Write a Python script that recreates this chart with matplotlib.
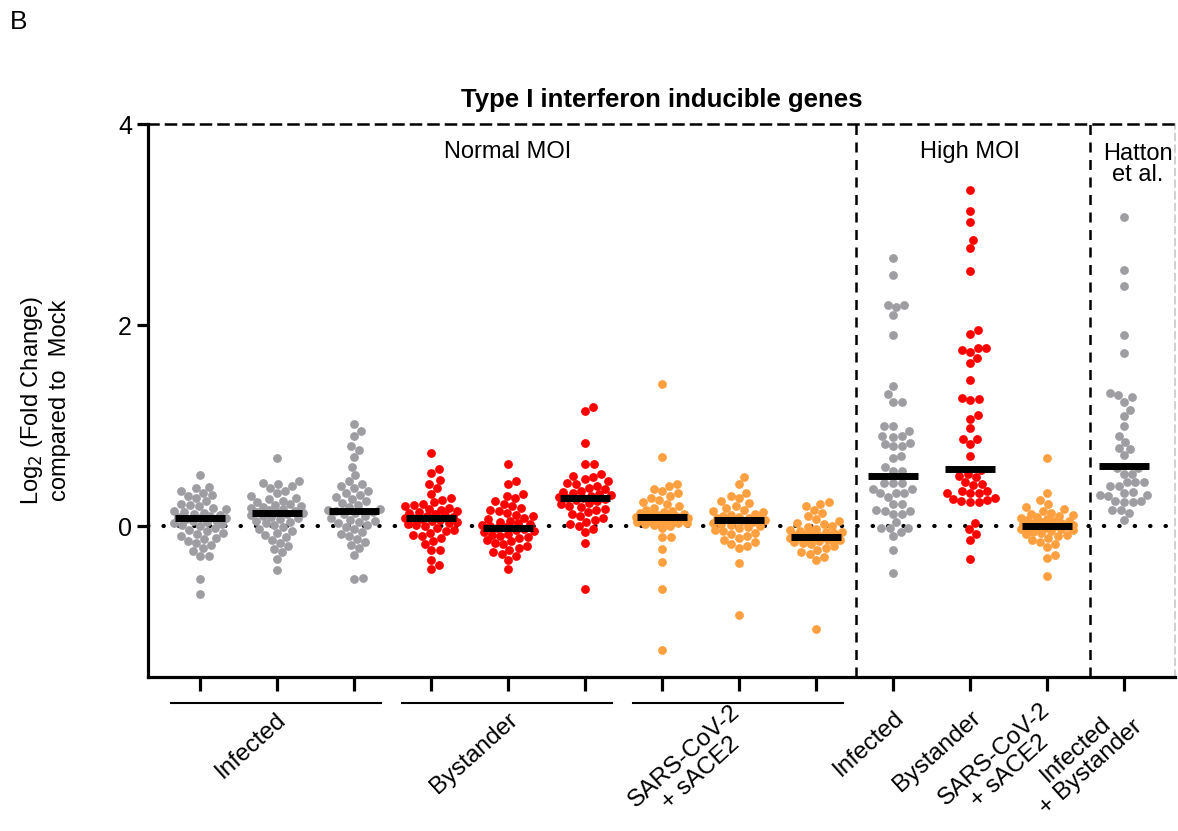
import numpy as np
import matplotlib
matplotlib.use('Agg')
import matplotlib.pyplot as plt

plt.rcParams['font.family'] = ['Liberation Sans', 'DejaVu Sans']

# значения для каждой группы (Log2 FC)
g_inf_1 = [0.51, 0.39, 0.38, 0.35, 0.33, 0.31, 0.30, 0.28, 0.25, 0.22, 0.21, 0.20, 0.18, 0.17,
           0.15, 0.14, 0.13, 0.12, 0.11, 0.10, 0.09, 0.08, 0.08, 0.07, 0.06, 0.05, 0.04, 0.03,
           0.02, 0.01, 0.0, -0.02, -0.04, -0.05, -0.07, -0.08, -0.10, -0.12, -0.13, -0.15,
           -0.17, -0.19, -0.22, -0.25, -0.30, -0.30, -0.53, -0.67]
g_inf_2 = [0.68, 0.45, 0.43, 0.42, 0.40, 0.38, 0.35, 0.33, 0.30, 0.28, 0.27, 0.25, 0.24, 0.22,
           0.21, 0.20, 0.19, 0.18, 0.17, 0.16, 0.15, 0.14, 0.14, 0.13, 0.12, 0.11, 0.10, 0.09,
           0.08, 0.07, 0.05, 0.04, 0.03, 0.01, -0.01, -0.03, -0.05, -0.07, -0.09, -0.11, -0.14,
           -0.17, -0.20, -0.23, -0.26, -0.33, -0.44]
g_inf_3 = [1.02, 0.95, 0.90, 0.80, 0.76, 0.69, 0.59, 0.51, 0.45, 0.42, 0.40, 0.38, 0.35, 0.33,
           0.31, 0.29, 0.27, 0.25, 0.23, 0.21, 0.19, 0.17, 0.16, 0.15, 0.14, 0.13, 0.12, 0.10,
           0.08, 0.06, 0.05, 0.04, 0.03, 0.01, -0.01, -0.03, -0.06, -0.08, -0.10, -0.13, -0.16,
           -0.19, -0.22, -0.29, -0.53, -0.52]
g_bys_1 = [0.73, 0.57, 0.53, 0.46, 0.42, 0.38, 0.32, 0.28, 0.26, 0.24, 0.22, 0.21, 0.20, 0.18,
           0.17, 0.16, 0.15, 0.14, 0.13, 0.12, 0.11, 0.10, 0.09, 0.08, 0.08, 0.07, 0.06, 0.05,
           0.04, 0.03, 0.02, 0.01, 0.0, -0.02, -0.04, -0.05, -0.07, -0.09, -0.10, -0.12, -0.15,
           -0.18, -0.24, -0.24, -0.34, -0.39, -0.43]
g_bys_2 = [0.62, 0.45, 0.42, 0.32, 0.30, 0.28, 0.25, 0.22, 0.20, 0.18, 0.16, 0.15, 0.13, 0.11,
           0.10, 0.08, 0.07, 0.05, 0.04, 0.03, 0.02, 0.01, 0.0, -0.01, -0.02, -0.03, -0.04, -0.05,
           -0.06, -0.08, -0.09, -0.10, -0.11, -0.12, -0.14, -0.15, -0.17, -0.18, -0.20, -0.22,
           -0.24, -0.26, -0.28, -0.30, -0.34, -0.43]
g_bys_3 = [1.19, 1.15, 0.83, 0.62, 0.62, 0.52, 0.50, 0.49, 0.47, 0.45, 0.43, 0.42, 0.40, 0.38,
           0.37, 0.35, 0.34, 0.33, 0.32, 0.31, 0.30, 0.29, 0.28, 0.28, 0.27, 0.26, 0.25, 0.23,
           0.22, 0.20, 0.19, 0.17, 0.16, 0.14, 0.12, 0.10, 0.08, 0.06, 0.04, 0.02, 0.0, -0.03,
           -0.06, -0.17, -0.62]
g_sace_1 = [1.41, 0.69, 0.42, 0.40, 0.37, 0.35, 0.33, 0.30, 0.28, 0.26, 0.24, 0.22, 0.20, 0.18,
            0.16, 0.15, 0.14, 0.13, 0.12, 0.11, 0.11, 0.10, 0.10, 0.09, 0.09, 0.08, 0.08, 0.07,
            0.07, 0.06, 0.06, 0.05, 0.05, 0.04, 0.04, 0.03, 0.03, 0.02, 0.01, 0.0, -0.02, -0.11,
            -0.11, -0.23, -0.36, -0.62, -1.23]
g_sace_2 = [0.49, 0.42, 0.33, 0.30, 0.28, 0.25, 0.23, 0.20, 0.18, 0.16, 0.15, 0.14, 0.12, 0.11,
            0.10, 0.09, 0.08, 0.08, 0.07, 0.07, 0.06, 0.06, 0.05, 0.04, 0.03, 0.02, 0.01, 0.0,
            -0.01, -0.02, -0.04, -0.05, -0.07, -0.08, -0.10, -0.12, -0.14, -0.16, -0.18, -0.20,
            -0.22, -0.37, -0.88]
g_sace_3 = [0.24, 0.22, 0.20, 0.16, 0.13, 0.10, 0.07, 0.05, 0.03, 0.02, 0.0, -0.01, -0.03, -0.04,
            -0.05, -0.06, -0.06, -0.07, -0.08, -0.08, -0.09, -0.09, -0.10, -0.10, -0.11, -0.11,
            -0.12, -0.12, -0.13, -0.13, -0.14, -0.14, -0.15, -0.16, -0.17, -0.18, -0.20, -0.22,
            -0.24, -0.26, -0.28, -0.31, -0.34, -1.02]
g_high_inf = [2.67, 2.50, 2.20, 2.20, 2.18, 2.10, 1.90, 1.39, 1.31, 1.24, 1.24, 1.0, 1.0, 0.95,
              0.90, 0.90, 0.89, 0.83, 0.82, 0.80, 0.80, 0.70, 0.68, 0.59, 0.55, 0.55, 0.43, 0.43,
              0.43, 0.37, 0.37, 0.33, 0.33, 0.33, 0.29, 0.22, 0.22, 0.16, 0.15, 0.15, 0.12, 0.12,
              0.04, -0.02, -0.02, -0.02, -0.06, -0.10, -0.24, -0.47]
g_high_bys = [3.34, 3.13, 3.03, 2.85, 2.77, 2.54, 1.95, 1.91, 1.77, 1.77, 1.75, 1.73, 1.67, 1.62,
              1.45, 1.27, 1.26, 1.25, 1.11, 1.07, 0.98, 0.87, 0.87, 0.82, 0.70, 0.56, 0.52, 0.50,
              0.49, 0.44, 0.42, 0.41, 0.35, 0.35, 0.33, 0.33, 0.33, 0.28, 0.27, 0.26, 0.25, 0.24,
              0.24, 0.03, -0.03, -0.08, -0.14, -0.33]
g_high_sace = [0.68, 0.33, 0.26, 0.22, 0.19, 0.17, 0.15, 0.13, 0.12, 0.11, 0.10, 0.09, 0.08, 0.07,
               0.06, 0.05, 0.05, 0.04, 0.03, 0.03, 0.02, 0.01, 0.01, 0.0, 0.0, -0.01, -0.01, -0.02,
               -0.03, -0.03, -0.04, -0.05, -0.06, -0.07, -0.08, -0.09, -0.10, -0.12, -0.14, -0.16,
               -0.18, -0.21, -0.29, -0.32, -0.50]
g_hatton = [3.08, 2.55, 2.39, 1.90, 1.72, 1.32, 1.30, 1.28, 1.24, 1.16, 1.10, 1.00, 0.90, 0.84,
            0.78, 0.77, 0.71, 0.58, 0.58, 0.52, 0.52, 0.44, 0.44, 0.44, 0.40, 0.40, 0.34, 0.33,
            0.31, 0.31, 0.30, 0.25, 0.25, 0.24, 0.24, 0.16, 0.16, 0.13, 0.06]

groups = [g_inf_1, g_inf_2, g_inf_3, g_bys_1, g_bys_2, g_bys_3, g_sace_1, g_sace_2, g_sace_3,
          g_high_inf, g_high_bys, g_high_sace, g_hatton]
# медианы (чёрные полосы)
medians = [0.08, 0.13, 0.15, 0.08, -0.02, 0.28, 0.09, 0.06, -0.11, 0.50, 0.57, 0.0, 0.60]
color_kind = ['inf', 'inf', 'inf', 'bys', 'bys', 'bys', 'sace', 'sace', 'sace',
              'inf', 'bys', 'sace', 'inf']
colors = {'inf': '#9e9ea2', 'bys': '#ff0000', 'sace': '#ffa040'}

normal_labels = ['Infected', 'Bystander', 'SARS-CoV-2\n+ sACE2']
high_labels = ['Infected', 'Bystander', 'SARS-CoV-2\n+ sACE2', 'Infected\n+ Bystander']

W, H = 1178, 831
px_x = 77.0     # пикселей на единицу по x
px_y = 100.5    # пикселей на единицу по y
d = 8.6         # диаметр точки в пикселях
max_w = 26.0    # максимальное отклонение от центра, пиксели


def swarm(vals):
    ys = np.asarray(vals) * px_y
    order = np.argsort(ys)
    xs = np.zeros(len(ys))
    placed = []
    grid = np.linspace(-max_w, max_w, 27)
    for i in order:
        y = ys[i]
        cand = [0.0]
        for (px, py) in placed:
            dy = y - py
            if abs(dy) < d:
                dx = np.sqrt(d * d - dy * dy)
                cand += [px + dx, px - dx]
        cand = [c for c in cand if abs(c) <= max_w]
        cand.sort(key=abs)
        found = False
        for c in cand:
            ok = True
            for (px, py) in placed:
                if (c - px) ** 2 + (y - py) ** 2 < d * d - 1e-6:
                    ok = False
                    break
            if ok:
                xs[i] = c
                found = True
                break
        if not found:
            # нет свободного места - берём наименее перекрытую позицию
            best, best_dist = 0.0, -1
            for c in grid:
                md = min((c - px) ** 2 + (y - py) ** 2 for (px, py) in placed)
                if md > best_dist:
                    best, best_dist = c, md
            xs[i] = best
        placed.append((xs[i], y))
    return xs / px_x


fig = plt.figure(figsize=(W / 100, H / 100), dpi=100)
ax = fig.add_axes([148 / W, 1 - 677 / H, (1175 - 148) / W, (677 - 124) / H])

x_left = -0.675
x_right = (1175 - 200) / px_x
ax.set_xlim(x_left, x_right)
ax.set_ylim(-1.5, 4)

for i, vals in enumerate(groups):
    off = swarm(vals)
    ax.scatter(i + off, vals, s=40, color=colors[color_kind[i]], linewidths=0, zorder=3)
    ax.plot([i - 0.33, i + 0.33], [medians[i], medians[i]], color='black', lw=5,
            solid_capstyle='butt', zorder=4)

# пунктир на нуле
ax.plot([x_left, x_right], [0, 0], color='black', lw=3, linestyle=(0, (0.1, 3.6)),
        dash_capstyle='round', zorder=2)

# вертикальные разделители
for xv in [8.52, 11.56]:
    ax.axvline(xv, color='black', lw=1.8, linestyle=(0, (4, 3)), zorder=2)

# оси
for s in ['left', 'bottom']:
    ax.spines[s].set_linewidth(2.3)
ax.spines['top'].set_linewidth(1.8)
ax.spines['top'].set_linestyle((0, (4, 3)))
ax.spines['right'].set_linewidth(1.2)
ax.spines['right'].set_color('#c8c8c8')
ax.spines['right'].set_linestyle((0, (4, 3)))

ax.set_yticks([0, 2, 4])
ax.set_xticks(range(13))
ax.set_xticklabels([])
ax.tick_params(axis='y', labelsize=18, width=2.3, length=8)
ax.tick_params(axis='x', width=2.3, length=10)

ax.set_ylabel('Log$_2$ (Fold Change)\ncompared to  Mock', fontsize=17, labelpad=34)
ax.set_title('Type I interferon inducible genes', fontsize=18.5, fontweight='bold', pad=12)

ax.text(4, 3.72, 'Normal MOI', fontsize=17, ha='center', va='center')
ax.text(10, 3.72, 'High MOI', fontsize=17, ha='center', va='center')
ax.text(12.18, 3.6, 'Hatton\net al.', fontsize=17, ha='center', va='center', linespacing=0.95)

# группирующие линии под нормальным MOI
y_line = -1.76
for k in range(3):
    a = 3 * k
    ax.plot([a - 0.38, a + 2.35], [y_line, y_line], color='black', lw=1.5, clip_on=False)

# подписи групп
for k, lab in enumerate(normal_labels):
    ax.text(3 * k + 1.08, -1.9, lab, fontsize=17.5, rotation=42, ha='right', va='center',
            rotation_mode='anchor', multialignment='center', linespacing=1.08)
for k, lab in enumerate(high_labels):
    ax.text(9 + k + 0.1, -1.88, lab, fontsize=17.5, rotation=42, ha='right', va='center',
            rotation_mode='anchor', multialignment='center', linespacing=1.08)

fig.text(10 / W, 1 - 22 / H, 'B', fontsize=19, ha='left', va='center')

fig.savefig('out.png', dpi=100)
